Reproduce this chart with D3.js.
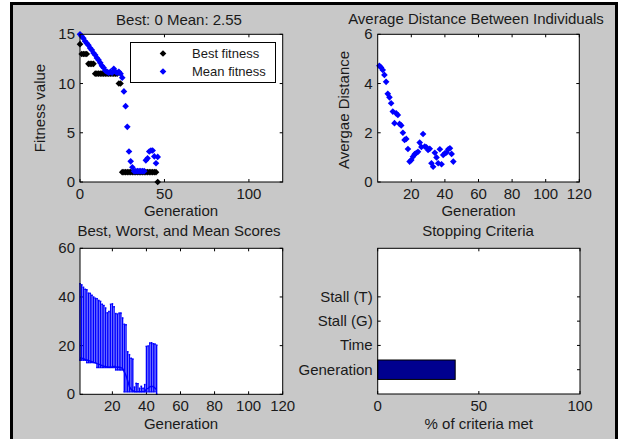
<!DOCTYPE html>
<html>
<head>
<meta charset="utf-8">
<script src="https://cdn.jsdelivr.net/npm/d3@7"></script>
<style>
  body { margin: 0; background: #fff; }
  text { font-family: "Liberation Sans", Arial, sans-serif; fill: #1a1a1a; }
</style>
</head>
<body>
<div id="chart"></div>
<script>
// generation numbers and values
var fitGen = [0,1,2,3,4,5,6,7,8,9,10,11,12,13,14,15,16,17,18,19,20,21,22,23,24,25,26,27,28,29,30,31,32,33,34,35,36,37,38,39,40,41,42,43,44,45,46];
var bestFitness = [14,13,13,13,13,12,12,12,12,11,11,11,11,11,11,11,11,11,11,11,11,11,11,10,10,1,1,1,1,1,1,1,1,1,1,1,1,1,1,1,1,1,1,1,1,1,0];
var meanFitness = [15.0,14.8,14.6,14.3,14.1,13.9,13.6,13.4,13.1,12.9,12.6,12.4,12.1,11.8,11.6,11.3,11.2,11.1,11.2,11.1,11.5,11.2,11.1,11.2,11.0,10.6,9.2,7.7,5.6,3.1,2.1,1.5,1.1,1.1,1.1,1.1,1.1,1.1,1.1,2.2,2.4,3.1,3.2,3.2,2.6,1.9,2.55];

var distGen = [1,2,3,4,5,6,7,8,9,10,11,12,13,14,15,16,17,18,19,20,21,22,23,24,25,26,27,28,29,30,31,32,33,34,35,36,37,38,39,40,41,42,43,44,45];
var avgDistance = [4.72,4.65,4.55,4.35,4.07,3.58,3.44,3.2,2.86,2.39,2.79,2.72,2.36,2.3,2.0,1.71,1.75,1.34,0.83,0.89,1.03,1.13,1.18,1.23,1.6,1.42,1.95,1.44,1.41,1.3,1.35,0.76,0.62,1.19,1.0,0.76,1.33,0.72,1.1,1.17,1.2,1.33,1.37,1.14,0.83];

var scoreGen = [1,2,3,4,5,6,7,8,9,10,11,12,13,14,15,16,17,18,19,20,21,22,23,24,25,26,27,28,29,30,31,32,33,34,35,36,37,38,39,40,41,42,43,44,45,46];
var scoreBest = [14,14,14,14,13,13,13,13,13,13,11,11,11,11,11,11,11,11,11,11,11,10,10,10,10,10,1,1,1,1,1,1,1,1,1,1,1,1,1,1,1,1,1,1,1,0];
var scoreMean = [15.0,14.8,14.6,14.3,14.1,13.9,13.6,13.4,13.1,12.9,12.6,12.4,12.1,11.8,11.6,11.3,11.2,11.1,11.2,11.1,11.5,11.2,11.1,11.2,11.0,10.6,9.2,7.7,5.6,3.1,2.1,1.5,1.1,1.1,1.1,1.1,1.1,1.1,1.1,2.2,2.4,3.1,3.2,3.2,2.6,1.9];
var scoreWorst = [45.5,45,44,43.2,43,41.6,41.5,40.7,40,39.5,39.3,38.6,38.2,37,36.5,35.5,33.5,34,37,37.2,36,33.2,33,33.4,33.4,31.4,28.8,28.6,17.5,16.3,14.8,14.5,3,4.5,4.4,2.5,3.3,2.5,4,19.7,19.9,21.1,21.2,20.8,20.7,20.2];

var criteria = ["Generation", "Time", "Stall (G)", "Stall (T)"];
var criteriaMet = [38.3, 0, 0, 0];

var fitXTicks = [0, 50, 100], fitYTicks = [0, 5, 10, 15];
var genTicks = [20, 40, 60, 80, 100, 120];
var distYTicks = [0, 2, 4, 6], scoreYTicks = [0, 20, 40, 60];
var pctTicks = [0, 50, 100];

var W = 621, H = 439;
var svg = d3.select("#chart").append("svg")
    .attr("width", W).attr("height", H);

// figure window: grey panel with heavy black frame
svg.append("rect").attr("x", 11.5).attr("y", 3.5).attr("width", 605).attr("height", 445)
    .attr("fill", "#c8c8c8").attr("stroke", "#000").attr("stroke-width", 3);

var TL = 3; // inward tick length

// draws white axes box with inward ticks on all four sides
function axesBox(x, y, xt, yt, ytFmt) {
  var x0 = x.range()[0], x1 = x.range()[1], y0 = y.range()[0], y1 = y.range()[1];
  var g = svg.append("g");
  g.append("rect").attr("x", x0).attr("y", y1).attr("width", x1 - x0).attr("height", y0 - y1)
    .attr("fill", "#fff");
  var ax = g.append("g").attr("class", "ticks");
  xt.forEach(function(t) {
    ax.append("line").attr("x1", x(t)).attr("x2", x(t)).attr("y1", y0).attr("y2", y0 - TL);
    ax.append("line").attr("x1", x(t)).attr("x2", x(t)).attr("y1", y1).attr("y2", y1 + TL);
    g.append("text").attr("x", x(t)).attr("y", y0 + 17).attr("text-anchor", "middle")
      .style("font-size", "15px").text(t);
  });
  yt.forEach(function(t, i) {
    ax.append("line").attr("x1", x0).attr("x2", x0 + TL).attr("y1", y(t)).attr("y2", y(t));
    ax.append("line").attr("x1", x1).attr("x2", x1 - TL).attr("y1", y(t)).attr("y2", y(t));
    g.append("text").attr("x", x0 - 5).attr("y", y(t) + 5).attr("text-anchor", "end")
      .style("font-size", "15px").text(ytFmt ? ytFmt(t, i) : t);
  });
  ax.selectAll("line").attr("stroke", "#000").attr("stroke-width", 1);
  return g;
}
function frame(g, x, y) {
  var x0 = x.range()[0], x1 = x.range()[1], y0 = y.range()[0], y1 = y.range()[1];
  g.append("rect").attr("x", x0).attr("y", y1).attr("width", x1 - x0).attr("height", y0 - y1)
    .attr("fill", "none").attr("stroke", "#000").attr("stroke-width", 1);
}
function label(txt, x, y, rot) {
  var t = svg.append("text").attr("text-anchor", "middle").style("font-size", "15px").text(txt);
  if (rot) t.attr("transform", `translate(${x},${y})rotate(-90)`);
  else t.attr("x", x).attr("y", y);
}
var dot = d3.symbol().type(d3.symbolSquare).size(22);

// ---- plot 1: fitness
var x1s = d3.scaleLinear().domain([0, 120]).range([80, 282.7]);
var y1s = d3.scaleLinear().domain([0, 15]).range([182, 34.3]);
var g1 = axesBox(x1s, y1s, fitXTicks, fitYTicks);
g1.selectAll(".best").data(fitGen).join("path")
    .attr("d", dot).attr("fill", "#000")
    .attr("transform", (d, i) => `translate(${x1s(d)},${y1s(bestFitness[i])})rotate(45)`);
g1.selectAll(".mean").data(fitGen).join("path")
    .attr("d", dot).attr("fill", "#0000ff")
    .attr("transform", (d, i) => `translate(${x1s(d)},${y1s(meanFitness[i])})rotate(45)`);
frame(g1, x1s, y1s);
// legend
var lg = svg.append("g");
lg.append("rect").attr("x", 130.5).attr("y", 42.5).attr("width", 145).attr("height", 40)
  .attr("fill", "#fff").attr("stroke", "#000");
[["Best fitness", "#000", 53.5], ["Mean fitness", "#0000ff", 71.5]].forEach(function(e) {
  lg.append("path").attr("d", dot).attr("fill", e[1]).attr("transform", `translate(163,${e[2]})rotate(45)`);
  lg.append("text").attr("x", 192).attr("y", e[2] + 4.5).style("font-size", "13px").text(e[0]);
});
label("Best: 0 Mean: 2.55", 179, 24.5);
label("Generation", 181, 216);
label("Fitness value", 45, 108, true);

// ---- plot 2: average distance
var x2s = d3.scaleLinear().domain([0, 120]).range([377.7, 579.3]);
var y2s = d3.scaleLinear().domain([0, 6]).range([182, 34.3]);
var g2 = axesBox(x2s, y2s, genTicks, distYTicks);
g2.selectAll(".dist").data(distGen).join("path")
    .attr("d", dot).attr("fill", "#0000ff")
    .attr("transform", (d, i) => `translate(${x2s(d)},${y2s(avgDistance[i])})rotate(45)`);
frame(g2, x2s, y2s);
label("Average Distance Between Individuals", 476, 24);
label("Generation", 478.5, 216);
label("Avergae Distance", 349, 110, true);

// ---- plot 3: best, worst, mean as error bars
var x3s = d3.scaleLinear().domain([1, 120]).range([80, 282.7]);
var y3s = d3.scaleLinear().domain([0, 60]).range([394.3, 248.3]);
var g3 = axesBox(x3s, y3s, genTicks, scoreYTicks);
var hw = 0.5;
var eb = g3.append("g").attr("stroke", "#0000ff").attr("stroke-width", 1.4).attr("fill", "none");
eb.selectAll(".v").data(scoreGen).join("line")
    .attr("x1", d => x3s(d)).attr("x2", d => x3s(d))
    .attr("y1", (d, i) => y3s(scoreBest[i])).attr("y2", (d, i) => y3s(scoreWorst[i]));
eb.selectAll(".t").data(scoreGen).join("line")
    .attr("x1", d => x3s(d - hw)).attr("x2", d => x3s(d + hw))
    .attr("y1", (d, i) => y3s(scoreWorst[i])).attr("y2", (d, i) => y3s(scoreWorst[i]));
eb.selectAll(".b").data(scoreGen).join("line")
    .attr("x1", d => x3s(d - hw)).attr("x2", d => x3s(d + hw))
    .attr("y1", (d, i) => y3s(scoreBest[i])).attr("y2", (d, i) => y3s(scoreBest[i]));
eb.append("path").datum(scoreGen)
    .attr("d", d3.line().x(d => x3s(d)).y((d, i) => y3s(scoreMean[i])));
frame(g3, x3s, y3s);
label("Best, Worst, and Mean Scores", 179, 236);
label("Generation", 181, 429);

// ---- plot 4: stopping criteria
var x4s = d3.scaleLinear().domain([0, 100]).range([377.7, 580]);
var y4s = d3.scaleLinear().domain([0, 6]).range([394, 248.3]);
var g4 = axesBox(x4s, y4s, pctTicks, [1, 2, 3, 4], (t, i) => criteria[i]);
g4.selectAll(".bar").data(criteria).join("rect")
    .attr("x", x4s(0))
    .attr("y", (d, i) => y4s(i + 1 + 0.4))
    .attr("width", (d, i) => x4s(criteriaMet[i]) - x4s(0))
    .attr("height", y4s(0) - y4s(0.8))
    .attr("fill", "#00008f").attr("stroke", (d, i) => criteriaMet[i] > 0 ? "#000" : "none");
frame(g4, x4s, y4s);
label("Stopping Criteria", 478, 236);
label("% of criteria met", 478.8, 429);
</script>
</body>
</html>
